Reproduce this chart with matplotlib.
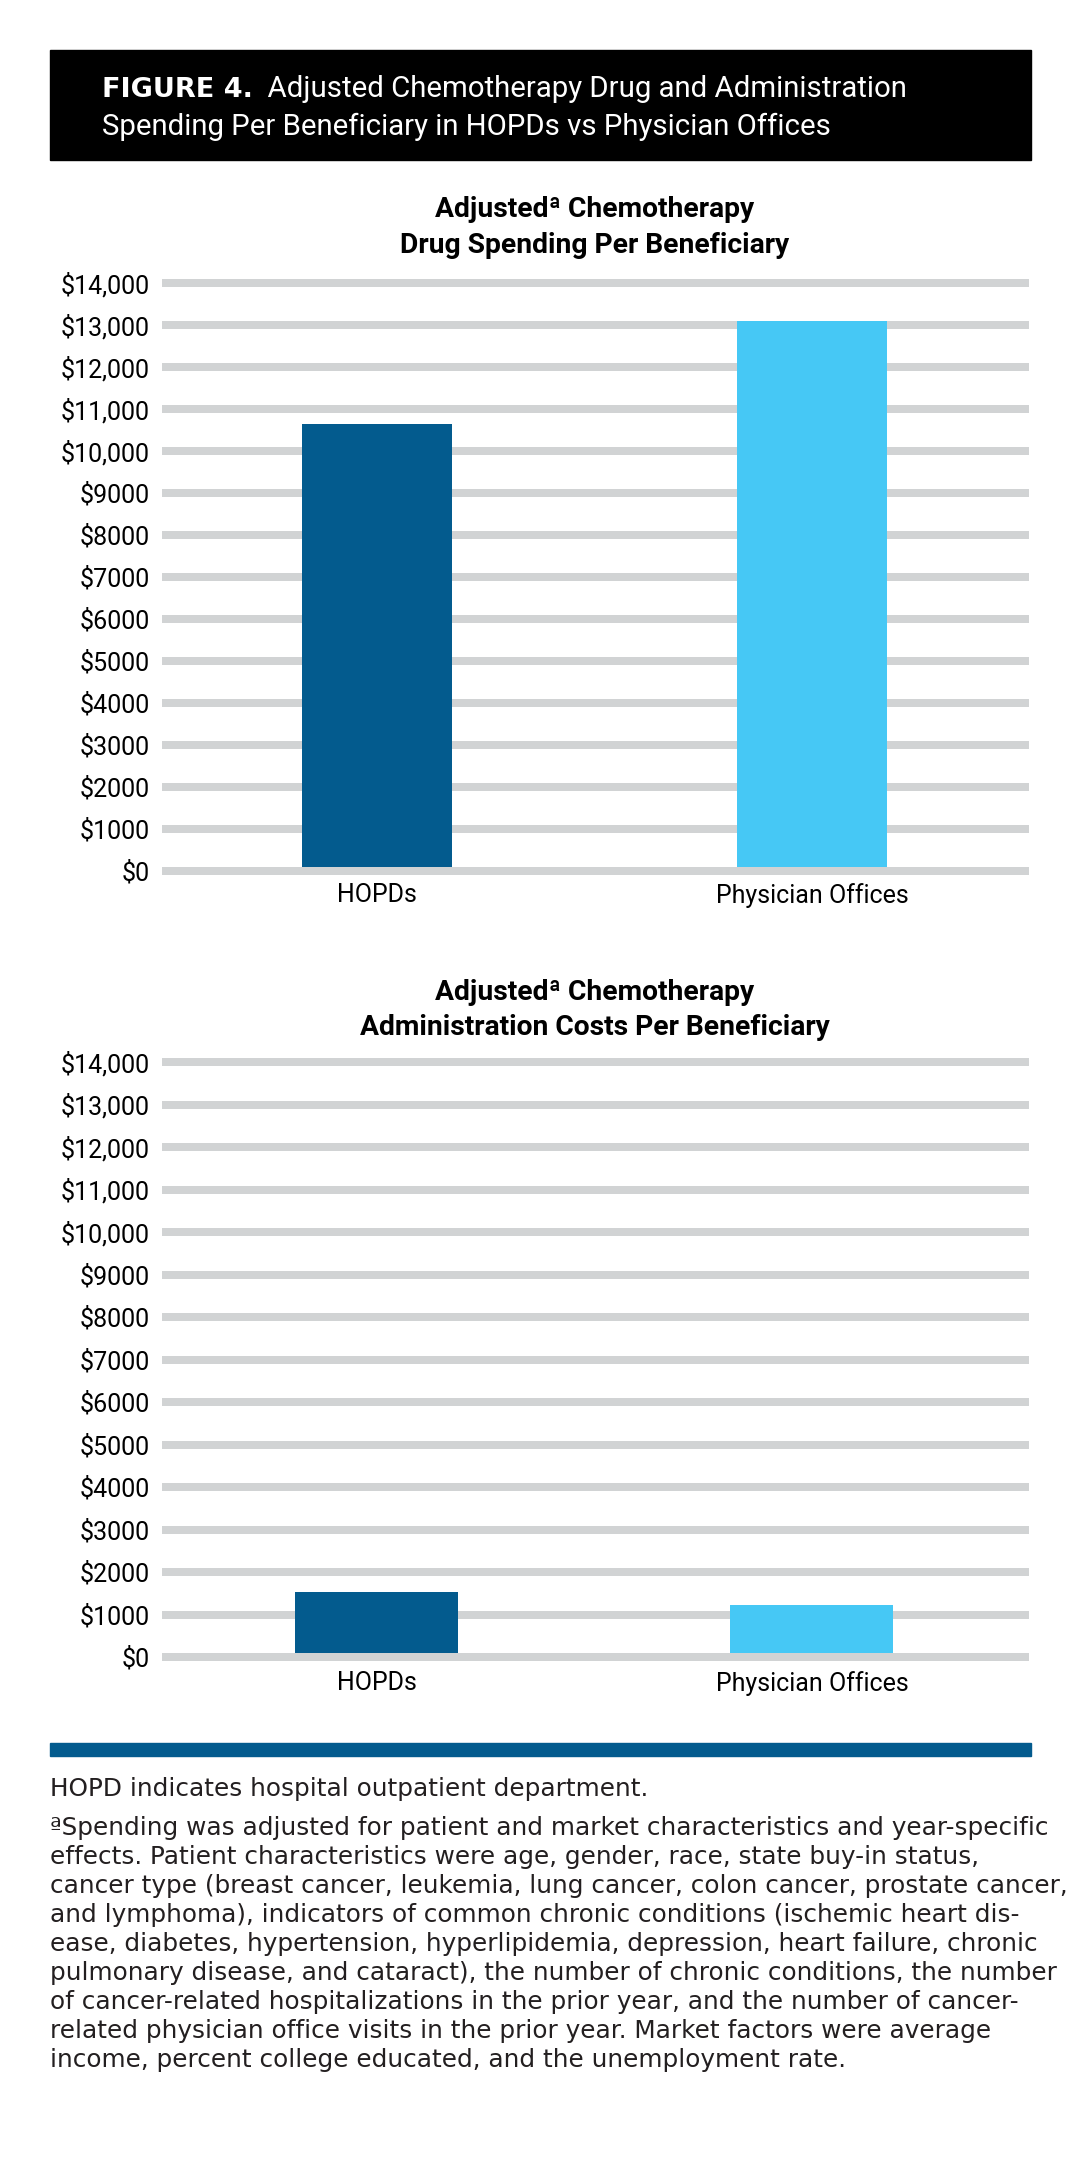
import matplotlib.pyplot as plt
from matplotlib.patches import Rectangle

plt.rcParams['font.family'] = ['Roboto', 'DejaVu Sans']

# 資料
categories = ['HOPDs', 'Physician Offices']
drug_spending = [10650, 13100]
admin_costs = [1530, 1220]
y_ticks = list(range(0, 14001, 1000))

bar_colors = ['#035b8e', '#46c8f5']
grid_color = '#d1d3d4'
rule_color = '#035b8e'

W, H = 1084, 2171
fig = plt.figure(figsize=(W / 100, H / 100), dpi=100)

# 整張圖的像素座標底層 (y 由上往下)
bg = fig.add_axes([0, 0, 1, 1])
bg.set_xlim(0, W)
bg.set_ylim(H, 0)
bg.axis('off')


def money(v):
    return f'${v:,}' if v >= 10000 else f'${v}'


# 標題黑框
bg.add_patch(Rectangle((50, 50), 981, 110, color='black', zorder=0))
t1 = bg.text(102, 97, 'FIGURE 4.', color='white', fontsize=19.5,
             fontweight='bold', family='DejaVu Sans', va='baseline', ha='left')
bg.annotate('  Adjusted Chemotherapy Drug and Administration', xy=(1, 0), xycoords=t1,
            color='white', fontsize=21.2, va='bottom', ha='left')
bg.text(102, 135, 'Spending Per Beneficiary in HOPDs vs Physician Offices',
        color='white', fontsize=21.2, va='baseline', ha='left')


def draw_chart(top, zero, values, width, title_lines, title_base, label_pad):
    ax = fig.add_axes([162 / W, 1 - zero / H, (1029 - 162) / W, (zero - top) / H])
    x = list(range(len(categories)))
    for v in y_ticks:
        # 0 的底線畫在長條上方
        ax.axhline(v, color=grid_color, linewidth=8 * 0.72, clip_on=False,
                   solid_capstyle='butt', zorder=3 if v == 0 else 1)
    ax.bar(x, values, width=width, color=bar_colors, zorder=2)
    ax.set_xlim(-0.494, 1.499)
    ax.set_ylim(0, 14000)
    ax.set_yticks(y_ticks)
    ax.set_yticklabels([money(v) for v in y_ticks])
    ax.set_xticks(x)
    ax.set_xticklabels(categories)
    ax.tick_params(axis='y', length=0, pad=8.6, labelsize=18)
    ax.tick_params(axis='x', length=0, pad=label_pad, labelsize=18)
    for s in ax.spines.values():
        s.set_visible(False)
    ax.patch.set_alpha(0)
    for line, yb in zip(title_lines, title_base):
        bg.text(595, yb, line, fontsize=20.3, fontweight='bold',
                ha='center', va='baseline')
    return ax


draw_chart(283, 871, drug_spending, 0.345,
           ['Adjustedª Chemotherapy', 'Drug Spending Per Beneficiary'], [217, 253], 9)
draw_chart(1062, 1657, admin_costs, 0.375,
           ['Adjustedª Chemotherapy', 'Administration Costs Per Beneficiary'], [1000, 1035], 10)

# 藍色分隔線
bg.add_patch(Rectangle((50, 1743), 981, 13, color=rule_color, zorder=0))

notes = [
    'HOPD indicates hospital outpatient department.',
    'ªSpending was adjusted for patient and market characteristics and year-specific',
    'effects. Patient characteristics were age, gender, race, state buy-in status,',
    'cancer type (breast cancer, leukemia, lung cancer, colon cancer, prostate cancer,',
    'and lymphoma), indicators of common chronic conditions (ischemic heart dis-',
    'ease, diabetes, hypertension, hyperlipidemia, depression, heart failure, chronic',
    'pulmonary disease, and cataract), the number of chronic conditions, the number',
    'of cancer-related hospitalizations in the prior year, and the number of cancer-',
    'related physician office visits in the prior year. Market factors were average',
    'income, percent college educated, and the unemployment rate.',
]
note_y = [1789] + [1828 + 29 * i for i in range(len(notes) - 1)]
note_texts = [bg.text(50, yc, line, fontsize=16, color='#231f20', ha='left', va='center',
                      family='DejaVu Sans')
              for line, yc in zip(notes, note_y)]

# 依最長一行調整註腳字級
renderer = fig.canvas.get_renderer()
widest = max(t.get_window_extent(renderer).width for t in note_texts)
for t in note_texts:
    t.set_fontsize(16 * 1018 / widest)

fig.savefig('out.png', dpi=100)
plt.close(fig)
